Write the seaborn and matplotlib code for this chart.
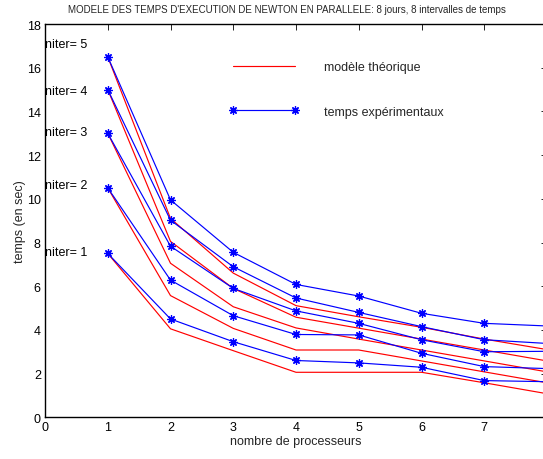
import matplotlib
matplotlib.use("Agg")
import matplotlib.pyplot as plt
from matplotlib.lines import Line2D
import numpy as np
import pandas as pd
import seaborn as sns

# ---- data ----
processors = [1, 2, 3, 4, 5, 6, 7, 8]
niters = [1, 2, 3, 4, 5]

theo_n1 = [7.5, 4.05, 3.05, 2.06, 2.06, 2.06, 1.58, 1.08]
theo_n2 = [10.5, 5.57, 4.07, 3.08, 3.08, 2.58, 2.08, 1.58]
theo_n3 = [13.0, 7.05, 5.06, 4.09, 3.58, 3.08, 2.58, 2.08]
theo_n4 = [15.0, 8.05, 5.9, 4.58, 4.08, 3.58, 3.08, 2.58]
theo_n5 = [16.5, 9.1, 6.6, 5.11, 4.6, 4.12, 3.58, 3.1]

exp_n1 = [7.5, 4.5, 3.46, 2.6, 2.49, 2.29, 1.68, 1.63]
exp_n2 = [10.5, 6.28, 4.65, 3.79, 3.77, 2.93, 2.32, 2.23]
exp_n3 = [13.0, 7.83, 5.9, 4.87, 4.3, 3.55, 3.0, 3.02]
exp_n4 = [15.0, 9.02, 6.89, 5.46, 4.8, 4.15, 3.55, 3.38]
exp_n5 = [16.5, 9.95, 7.55, 6.08, 5.55, 4.76, 4.3, 4.18]

label_y = [7.58, 10.63, 13.07, 14.95, 17.1]
niter_labels = ["niter= 1", "niter= 2", "niter= 3", "niter= 4", "niter= 5"]

x_ticks = [0, 1, 2, 3, 4, 5, 6, 7, 8]
x_tick_labels = ["0", "1", "2", "3", "4", "5", "6", "7", ""]
y_ticks = [0, 2, 4, 6, 8, 10, 12, 14, 16, 18]

title = "MODELE DES TEMPS D'EXECUTION DE NEWTON EN PARALLELE: 8 jours, 8 intervalles de temps"
xlabel = "nombre de processeurs"
ylabel = "temps (en sec)"
legend_labels = ["modèle théorique", "temps expérimentaux"]

# ---- tables ----
theo = [theo_n1, theo_n2, theo_n3, theo_n4, theo_n5]
expe = [exp_n1, exp_n2, exp_n3, exp_n4, exp_n5]
df_theo = pd.DataFrame([(n, p, v) for n, s in zip(niters, theo) for p, v in zip(processors, s)],
                       columns=["niter", "p", "t"])
df_exp = pd.DataFrame([(n, p, v) for n, s in zip(niters, expe) for p, v in zip(processors, s)],
                      columns=["niter", "p", "t"])

sns.set_style("white")
plt.rcParams["font.family"] = ["Liberation Sans", "DejaVu Sans"]

fig = plt.figure(figsize=(5.43, 4.60), dpi=100)
ax = fig.add_axes([45 / 543, (460 - 418.3) / 460, 502 / 543, 393.3 / 460])

star = (8, 2, 0)
sns.lineplot(data=df_theo, x="p", y="t", units="niter", estimator=None,
             color="#ff0000", linewidth=0.85, ax=ax, legend=False)
sns.lineplot(data=df_exp, x="p", y="t", units="niter", estimator=None,
             color="#0000ff", linewidth=0.85, marker=star, markersize=6,
             markeredgecolor="#0000ff", markeredgewidth=0.9, ax=ax, legend=False)

for yv, lab in zip(label_y, niter_labels):
    ax.text(0.0, yv, lab, ha="left", va="center", fontsize=9, color="black")

ax.set_xlim(0, 8)
ax.set_ylim(0, 18)
ax.set_xticks(x_ticks)
ax.set_xticklabels(x_tick_labels)
ax.set_yticks(y_ticks)
ax.tick_params(direction="in", length=4, width=0.6, top=True, right=True,
               labelsize=9, pad=3, colors="black")
for sp in ax.spines.values():
    sp.set_visible(True)
    sp.set_color("black")
    sp.set_linewidth(1.0)

ax.set_xlabel(xlabel, fontsize=9, labelpad=1)
ax.set_ylabel(ylabel, fontsize=9, labelpad=0.5)
fig.text(287 / 543, 1 - 10 / 460, title, ha="center", va="center", fontsize=7)

handles = [Line2D([], [], color="#ff0000", linewidth=0.85),
           Line2D([], [], color="#0000ff", linewidth=0.85, marker=star, markersize=6,
                  markeredgewidth=0.9)]
leg = ax.legend(handles, legend_labels, loc="upper left", bbox_to_anchor=(0.3665, 0.9055),
                frameon=False, fontsize=9, handlelength=5.6, handletextpad=2.0,
                labelspacing=2.6, borderpad=0, borderaxespad=0, numpoints=2)

fig.savefig("out.png", dpi=100)
